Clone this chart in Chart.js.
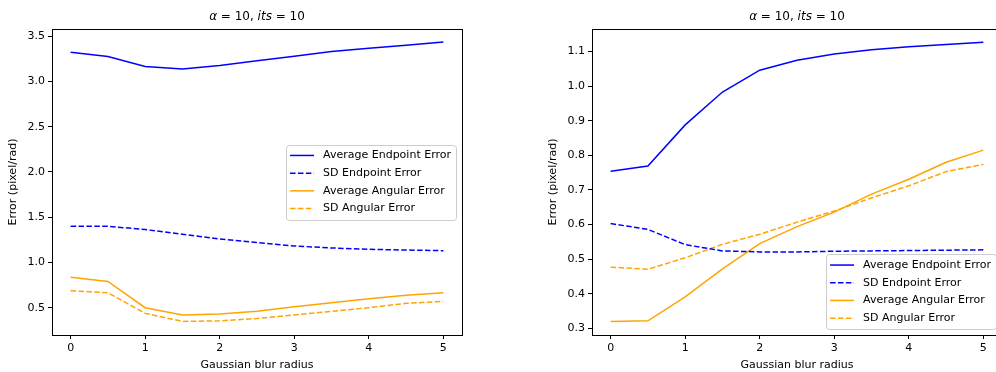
<!DOCTYPE html>
<html>
<head>
<meta charset="utf-8">
<script src="https://cdn.jsdelivr.net/npm/chart.js@4"></script>
<style>
    body { margin: 0; width: 996px; height: 372px; overflow: hidden; background: #fff; position: relative; }
    .plot { position: absolute; top: 0; }
</style>
</head>
<body>
<div class="plot" style="left:0"><canvas id="leftChart" width="498" height="372"></canvas></div>
<div class="plot" style="left:498px"><canvas id="rightChart" width="520" height="372"></canvas></div>
<script>
// blur radius on the x axis
var blurRadius = [0, 0.5, 1, 1.5, 2, 2.5, 3, 3.5, 4, 4.5, 5];

// left plot
var leftAvgEndpoint = [3.323, 3.275, 3.165, 3.139, 3.176, 3.23, 3.28, 3.33, 3.367, 3.40, 3.437];
var leftSdEndpoint  = [1.40, 1.40, 1.363, 1.312, 1.26, 1.219, 1.182, 1.16, 1.145, 1.137, 1.13];
var leftAvgAngular  = [0.835, 0.79, 0.50, 0.418, 0.429, 0.46, 0.51, 0.554, 0.598, 0.636, 0.665];
var leftSdAngular   = [0.687, 0.665, 0.437, 0.348, 0.355, 0.381, 0.42, 0.46, 0.50, 0.548, 0.57];

// right plot
var rightAvgEndpoint = [0.754, 0.769, 0.888, 0.983, 1.046, 1.075, 1.093, 1.105, 1.114, 1.12, 1.127];
var rightSdEndpoint  = [0.603, 0.586, 0.542, 0.524, 0.521, 0.521, 0.523, 0.524, 0.525, 0.526, 0.527];
var rightAvgAngular  = [0.32, 0.322, 0.391, 0.472, 0.545, 0.594, 0.636, 0.688, 0.731, 0.78, 0.815];
var rightSdAngular   = [0.477, 0.471, 0.504, 0.543, 0.572, 0.607, 0.639, 0.677, 0.712, 0.753, 0.774];

var seriesLabels = ['Average Endpoint Error', 'SD Endpoint Error', 'Average Angular Error', 'SD Angular Error'];
var seriesColors = ['#0000ff', '#0000ff', '#ffa500', '#ffa500'];
var seriesDashed = [false, true, false, true];

var xTicks = [0, 1, 2, 3, 4, 5];
var leftYTicks = [0.5, 1.0, 1.5, 2.0, 2.5, 3.0, 3.5];
var rightYTicks = [0.3, 0.4, 0.5, 0.6, 0.7, 0.8, 0.9, 1.0, 1.1];

var FONT = 'DejaVu Sans';
var dashPattern = [5.5, 2.4];

function toPoints(values) {
    return values.map((v, i) => ({ x: blurRadius[i], y: v }));
}

// frame around the axes, matplotlib style
var framePlugin = {
    id: 'frame',
    afterDraw(chart) {
        const a = chart.chartArea;
        const ctx = chart.ctx;
        ctx.save();
        ctx.strokeStyle = '#000';
        ctx.lineWidth = 1;
        ctx.strokeRect(Math.round(a.left) + 0.5, Math.round(a.top) + 0.5,
            Math.round(a.right - a.left), Math.round(a.bottom - a.top));
        ctx.restore();
    }
};

// title with italic math parts
var mathTitlePlugin = {
    id: 'mathTitle',
    afterDraw(chart) {
        const a = chart.chartArea;
        const ctx = chart.ctx;
        const parts = [
            { t: 'α', it: true }, { t: ' = 10, ', it: false },
            { t: 'its', it: true }, { t: ' = 10', it: false }
        ];
        ctx.save();
        ctx.fillStyle = '#000';
        ctx.textBaseline = 'middle';
        let total = 0;
        parts.forEach(p => {
            ctx.font = (p.it ? 'italic ' : '') + '12px "' + FONT + '"';
            p.w = ctx.measureText(p.t).width;
            total += p.w;
        });
        let x = (a.left + a.right) / 2 - total / 2;
        parts.forEach(p => {
            ctx.font = (p.it ? 'italic ' : '') + '12px "' + FONT + '"';
            ctx.fillText(p.t, x, 16.5);
            x += p.w;
        });
        ctx.restore();
    }
};

// legend drawn inside the axes
var boxLegendPlugin = {
    id: 'boxLegend',
    afterDraw(chart, args, opts) {
        const a = chart.chartArea;
        const ctx = chart.ctx;
        const rowH = 17.7;
        ctx.save();
        ctx.font = '11px "' + FONT + '"';
        let maxW = 0;
        chart.data.datasets.forEach(ds => { maxW = Math.max(maxW, ctx.measureText(ds.label).width); });
        const w = 4 + 24 + 9 + maxW + 5;
        const h = rowH * chart.data.datasets.length + 4;
        const x0 = a.right - 6 - w;
        let y0;
        if (opts.place === 'lower right') {
            y0 = a.bottom - 6 - h;
        } else {
            y0 = (a.top + a.bottom) / 2 - h / 2;
        }
        ctx.fillStyle = 'rgba(255,255,255,0.8)';
        ctx.strokeStyle = '#cccccc';
        ctx.lineWidth = 1;
        ctx.beginPath();
        ctx.roundRect(Math.round(x0) + 0.5, Math.round(y0) + 0.5, Math.round(w), Math.round(h), 3);
        ctx.fill();
        ctx.stroke();
        chart.data.datasets.forEach((ds, i) => {
            const cy = y0 + 2 + rowH * (i + 0.5);
            ctx.strokeStyle = ds.borderColor;
            ctx.lineWidth = 1.5;
            ctx.setLineDash(ds.borderDash || []);
            ctx.beginPath();
            ctx.moveTo(x0 + 4, cy);
            ctx.lineTo(x0 + 28, cy);
            ctx.stroke();
            ctx.setLineDash([]);
            ctx.fillStyle = '#000';
            ctx.textBaseline = 'middle';
            ctx.fillText(ds.label, x0 + 37, cy);
        });
        ctx.restore();
    }
};

function makeChart(id, seriesList, yMin, yMax, yTicks, padLeft, padRight, legendPlace) {
    const ctx = document.getElementById(id).getContext('2d');
    return new Chart(ctx, {
        type: 'line',
        data: {
            datasets: seriesList.map((values, i) => ({
                label: seriesLabels[i],
                data: toPoints(values),
                borderColor: seriesColors[i],
                backgroundColor: seriesColors[i],
                borderWidth: 1.5,
                borderDash: seriesDashed[i] ? dashPattern : [],
                pointRadius: 0,
                tension: 0,
                fill: false
            }))
        },
        options: {
            responsive: false,
            animation: false,
            devicePixelRatio: 1,
            layout: { padding: { top: 29, left: padLeft, right: padRight, bottom: 0 } },
            plugins: {
                legend: { display: false },
                title: { display: false },
                tooltip: { enabled: false },
                boxLegend: { place: legendPlace }
            },
            scales: {
                x: {
                    type: 'linear',
                    min: -0.25,
                    max: 5.25,
                    afterBuildTicks: s => { s.ticks = xTicks.map(v => ({ value: v })); },
                    afterFit: s => { s.height = 37; },
                    border: { display: false },
                    grid: { drawOnChartArea: false, drawTicks: true, tickLength: 4, color: '#000', tickColor: '#000' },
                    ticks: { color: '#000', padding: 3, font: { family: FONT, size: 11 }, maxRotation: 0 },
                    title: { display: true, text: 'Gaussian blur radius', color: '#000',
                        font: { family: FONT, size: 11 }, padding: { top: 2, bottom: 0 } }
                },
                y: {
                    min: yMin,
                    max: yMax,
                    afterBuildTicks: s => { s.ticks = yTicks.map(v => ({ value: v })); },
                    afterFit: s => { s.width = 52; },
                    border: { display: false },
                    grid: { drawOnChartArea: false, drawTicks: true, tickLength: 4, color: '#000', tickColor: '#000' },
                    ticks: { color: '#000', padding: 3, font: { family: FONT, size: 11 },
                        callback: v => Number(v).toFixed(1) },
                    title: { display: true, text: 'Error (pixel/rad)', color: '#000',
                        font: { family: FONT, size: 11 }, padding: { top: 6.7, bottom: 0 } }
                }
            }
        },
        plugins: [framePlugin, mathTitlePlugin, boxLegendPlugin]
    });
}

makeChart('leftChart', [leftAvgEndpoint, leftSdEndpoint, leftAvgAngular, leftSdAngular],
    0.198, 3.58, leftYTicks, 0, 36, 'center right');
makeChart('rightChart', [rightAvgEndpoint, rightSdEndpoint, rightAvgAngular, rightSdAngular],
    0.281, 1.165, rightYTicks, 42, 16, 'lower right');
</script>
</body>
</html>
